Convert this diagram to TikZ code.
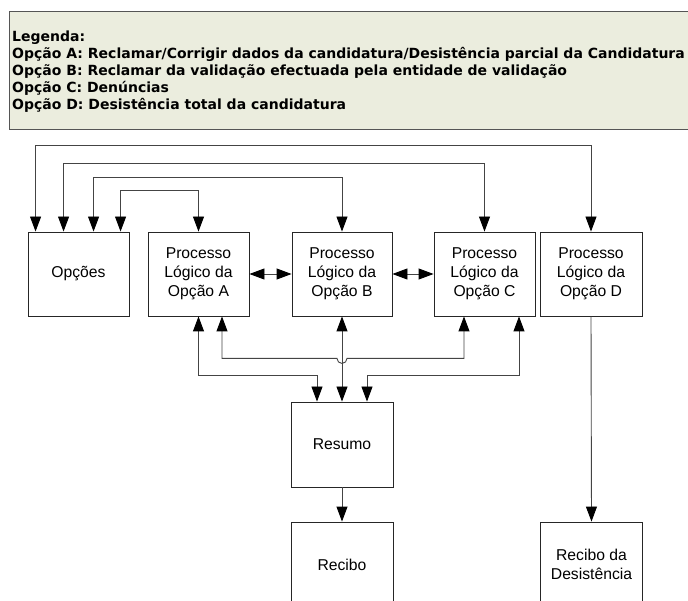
\documentclass[tikz,border=0pt]{standalone}
\usepackage{fontspec}
\setmainfont{Liberation Sans}
\newfontfamily\legfont{DejaVu Sans}
\usetikzlibrary{arrows.meta,calc}
\definecolor{legfill}{HTML}{EBEDDE}
\definecolor{legline}{HTML}{555555}
\definecolor{conn}{HTML}{444444}
\tikzset{
  box/.style={draw=black!85, line width=0.9pt, minimum width=101pt, minimum height=84pt,
    inner sep=0pt, align=center, font=\fontsize{15.7}{19}\selectfont},
  legtxt/.style={anchor=base west, inner sep=0pt, font=\legfont\bfseries\fontsize{14}{16}\selectfont},
  tip/.style={-{Triangle[length=15pt,width=11pt,color=black]}},
  dtip/.style={{Triangle[length=15pt,width=11pt,color=black]}-{Triangle[length=15pt,width=11pt,color=black]}},
  wire/.style={draw=conn, line width=0.9pt}
}
\begin{document}
\begin{tikzpicture}[x=1pt,y=-1pt]
\useasboundingbox (0,0) rectangle (688,601);
% legend
\node[draw=legline, fill=legfill, line width=0.9pt, minimum width=700pt, minimum height=118pt,
  inner sep=0pt, anchor=north west] (leg) at (9,11) {};
\node[legtxt] (l0) at (12,42) {Legenda:};
\node[legtxt] (l1) at (12,59) {Opção A: Reclamar/Corrigir dados da candidatura/Desistência parcial da Candidatura};
\node[legtxt] (l2) at (12,76) {Opção B: Reclamar da validação efectuada pela entidade de validação};
\node[legtxt] (l3) at (12,93) {Opção C: Denúncias};
\node[legtxt] (l4) at (12,110) {Opção D: Desistência total da candidatura};
% boxes
\node[box] (opc) at (78.5,274) {Opções};
\node[box] (A) at (198.5,274) {Processo\\Lógico da\\Opção A};
\node[box, minimum width=100pt] (B) at (342,274) {Processo\\Lógico da\\Opção B};
\node[box] (C) at (484.5,274) {Processo\\Lógico da\\Opção C};
\node[box, minimum width=102pt] (D) at (591,274) {Processo\\Lógico da\\Opção D};
\node[box, minimum width=102pt, minimum height=85pt] (res) at (342,444.5) {Resumo};
\node[box, minimum width=102pt, minimum height=85pt] (rec) at (342,564.5) {Recibo};
\node[box, minimum width=102pt, minimum height=85pt] (recd) at (591.5,564.5) {Recibo da\\Desistência};
% top connectors
\coordinate (o1) at ($(opc.north west)+(8,0)$);
\coordinate (o2) at ($(opc.north west)+(36,0)$);
\coordinate (o3) at ($(opc.north west)+(66,0)$);
\coordinate (o4) at ($(opc.north west)+(93,0)$);
\draw[wire, dtip] (D.north) -- ++(0,-86) -| (o1);
\draw[wire, dtip] (C.north) -- ++(0,-68) -| (o2);
\draw[wire, dtip] (B.north) -- ++(0,-54) -| (o3);
\draw[wire, dtip] (A.north) -- ++(0,-41) -| (o4);
% horizontal links
\draw[wire, dtip] (A.east) -- (B.west);
\draw[wire, dtip] (B.east) -- (C.west);
% bottom connectors
\coordinate (a1) at (A.south);
\coordinate (a2) at ($(A.south)+(23.5,0)$);
\coordinate (c1) at ($(C.south)+(-20.5,0)$);
\coordinate (c2) at ($(C.south)+(34.5,0)$);
\coordinate (r1) at ($(res.north)+(-25,0)$);
\coordinate (r3) at ($(res.north)+(25,0)$);
\draw[wire, dtip] (a1) -- ++(0,59) -| (r1);
\draw[wire, dtip] (c2) -- ++(0,59) -| (r3);
\draw[wire, dtip] (B.south) -- (res.north);
\draw[wire, dtip] (a2) -- ++(0,42) -- ($(B.south)+(-5,42)$) arc[start angle=180, end angle=0, radius=5] -| (c1);
\draw[wire, tip] (res.south) -- (rec.north);
\draw[wire, tip] (D.south) -- (recd.north);
\end{tikzpicture}
\end{document}
